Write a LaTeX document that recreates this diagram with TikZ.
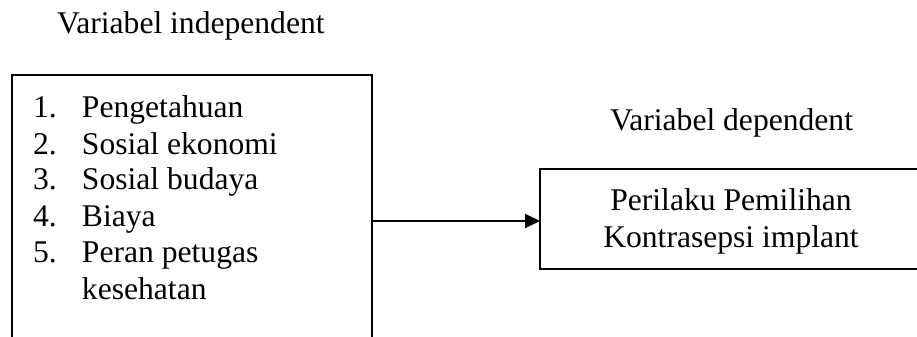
\documentclass[tikz,border=0pt]{standalone}
\usepackage{fontspec}
\setmainfont{Liberation Serif}
\usetikzlibrary{arrows.meta}
\begin{document}
\begin{tikzpicture}[x=0.5pt,y=-0.5pt,
  every node/.style={inner sep=0pt,outer sep=0pt,font=\fontsize{15.8}{18.2}\selectfont},
  txt/.style={anchor=base west},
  ctxt/.style={anchor=base},
  boxst/.style={draw=black,line width=1pt,rectangle},
  conn/.style={draw=black,line width=1pt,-{Triangle[length=7.5pt,width=7pt]}}]
\useasboundingbox (0,0) rectangle (917,337);
\clip (0,0) rectangle (917,337);
\fill[white] (0,0) rectangle (917,337);
% titles
\node[txt] (tind) at (57,33) {Variabel independent};
\node[txt] (tdep) at (610,130) {Variabel dependent};
% left box (extends below the picture)
\node[boxst,minimum width=180pt,minimum height=140pt] (lbox) at (192,215) {};
\node[txt] (n1) at (33,117) {1.};
\node[txt] (i1) at (82,117) {Pengetahuan};
\node[txt] (n2) at (33,154) {2.};
\node[txt] (i2) at (82,154) {Sosial ekonomi};
\node[txt] (n3) at (33,189.5) {3.};
\node[txt] (i3) at (82,189.5) {Sosial budaya};
\node[txt] (n4) at (33,226.5) {4.};
\node[txt] (i4) at (82,226.5) {Biaya};
\node[txt] (n5) at (33,262.5) {5.};
\node[txt] (i5) at (82,262.5) {Peran petugas};
\node[txt] (i6) at (82,299) {kesehatan};
% right box (extends beyond the right edge)
\node[boxst,minimum width=191pt,minimum height=50pt] (rbox) at (731,219) {};
\node[ctxt] (r1) at (731,210) {Perilaku Pemilihan};
\node[ctxt] (r2) at (731,247) {Kontrasepsi implant};
% connector
\draw[conn] ([yshift=-1pt]lbox.east |- rbox.west) -- ([yshift=-1pt]rbox.west);
\end{tikzpicture}
\end{document}
